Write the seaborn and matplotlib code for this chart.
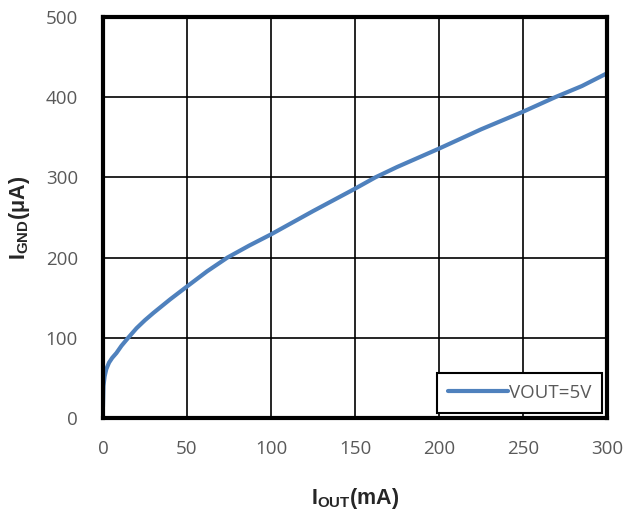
import pandas as pd
import matplotlib
matplotlib.use("Agg")
import matplotlib.pyplot as plt
import seaborn as sns

# values
iout_ma = [0, 0.3, 1, 2, 3.6, 5.5, 8, 11, 15, 20, 25, 30, 40, 50, 62, 74, 87, 100,
           125, 150, 162, 175, 200, 225, 250, 269, 285, 300]
ignd_ua = [14, 40, 52, 61, 69, 75, 81, 90, 100, 112, 122, 131, 148, 164, 183, 200, 215, 229,
           258, 286, 300, 313, 336, 360, 382, 400, 414, 430]
series_name = "VOUT=5V"

df = pd.DataFrame({"Iout": iout_ma, "Ignd": ignd_ua, "Series": series_name})

sns.set_style("white")
plt.rcParams["font.family"] = ["Open Sans", "DejaVu Sans"]
plt.rcParams["mathtext.fontset"] = "custom"
plt.rcParams["mathtext.rm"] = "Liberation Sans"
plt.rcParams["mathtext.bf"] = "Liberation Sans:bold"

fig = plt.figure(figsize=(6.24, 5.17), dpi=100)
ax = fig.add_axes([0.165, 0.1915, 0.808, 0.7755])

sns.lineplot(data=df, x="Iout", y="Ignd", hue="Series", palette=["#4F81BD"],
             linewidth=3, ax=ax, sort=False)

ax.set_xlim(0, 300)
ax.set_ylim(0, 500)
ax.set_xticks(range(0, 301, 50))
ax.set_yticks(range(0, 501, 100))
ax.grid(True, color="black", linewidth=1.2)
ax.set_axisbelow(True)
for s in ax.spines.values():
    s.set_color("black")
    s.set_linewidth(3)
ax.tick_params(length=0, labelsize=13.5, labelcolor="#595959")
ax.tick_params(axis="x", pad=16)
ax.tick_params(axis="y", pad=18)

ax.set_xlabel(r"$\mathbf{I_{OUT}}$(mA)", fontsize=15.5, fontweight="bold", labelpad=20,
              family="Liberation Sans")
ax.set_ylabel(r"$\mathbf{I_{GND}}$(μA)", fontsize=15.5, fontweight="bold", labelpad=10,
              family="Liberation Sans")

leg = ax.legend(loc="lower right", bbox_to_anchor=(1.0, 0.0), borderaxespad=0.25,
                fontsize=13.5, frameon=True, fancybox=False, handlelength=3.2,
                handletextpad=0.05, borderpad=0.6)
leg.get_frame().set_edgecolor("black")
leg.get_frame().set_linewidth(1.5)
leg.get_frame().set_alpha(1)
for t in leg.get_texts():
    t.set_color("#595959")

fig.savefig("out.png", dpi=100)
